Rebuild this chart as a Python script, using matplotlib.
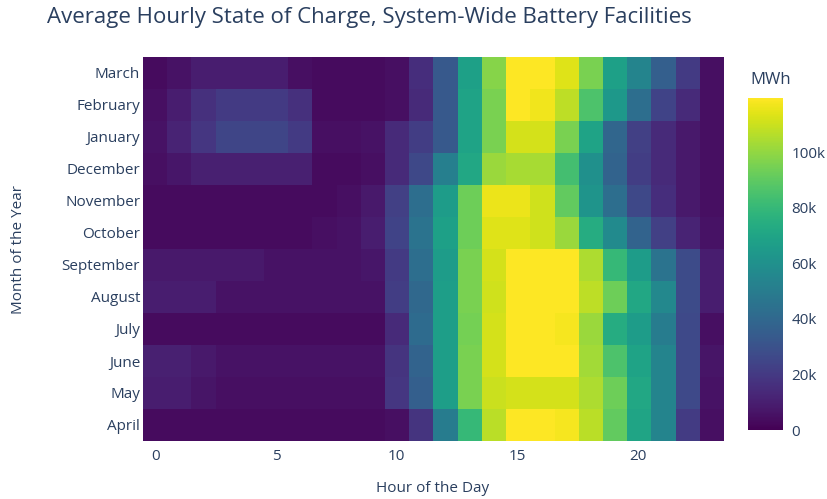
import numpy as np
import matplotlib
matplotlib.use("Agg")
import matplotlib.pyplot as plt
from matplotlib.ticker import FuncFormatter

plt.rcParams['font.family'] = ['Open Sans', 'DejaVu Sans']

hours = list(range(24))
months = ['April', 'May', 'June', 'July', 'August', 'September',
          'October', 'November', 'December', 'January', 'February', 'March']

# average state of charge per hour, thousands of MWh
april = [3.5, 3.5, 3.5, 3.5, 3.5, 3.5, 3.5, 3.5, 3.5, 3.5, 4.7, 18,
         50, 80, 107, 119.5, 119.5, 118, 107, 91, 70, 54, 21, 4.7]
may = [9.4, 9.4, 7, 4.7, 4.7, 4.7, 4.7, 4.7, 4.7, 4.7, 19, 36,
       67, 95.5, 110, 112, 112, 112, 105, 93, 71.5, 54, 26.5, 6]
june = [10.5, 10.5, 8.2, 5.9, 5.9, 5.9, 5.9, 5.9, 5.9, 5.9, 18, 38,
        67, 95.5, 112, 119.5, 119.5, 119.5, 103, 86, 69.5, 54, 26.5, 7]
july = [3.5, 3.5, 3.5, 3.5, 3.5, 3.5, 3.5, 3.5, 3.5, 3.5, 14.3, 42,
        67, 94.5, 112, 119.5, 119.5, 118, 101.5, 74, 66, 50, 26.5, 4.7]
august = [9.6, 9.6, 9.6, 6, 6, 6, 6, 6, 6, 6, 21.5, 40.5,
          67, 95.5, 111, 119.5, 119.5, 119.5, 107.5, 93, 71.5, 56, 27.5, 9.6]
september = [8.4, 8.4, 8.4, 8.4, 8.4, 6, 6, 6, 6, 7.2, 20.3, 43,
             66, 95.5, 112, 119.5, 119.5, 119.5, 105, 80, 66, 45.5, 27.5, 9.6]
october = [3.5, 3.5, 3.5, 3.5, 3.5, 3.5, 3.5, 4.8, 6, 9.6, 24, 45.5,
           68, 93, 113.5, 113.5, 111, 101.5, 74, 57, 38, 22.5, 12, 6]
november = [3.5, 3.5, 3.5, 3.5, 3.5, 3.5, 3.5, 3.5, 4.8, 8.4, 22.7, 43,
            66, 93, 116, 116, 111, 91, 62, 43, 26, 15.5, 8.4, 4.8]
december = [4.8, 7.2, 10.7, 10.7, 10.7, 10.7, 10.7, 3.5, 3.5, 4.8, 14.3, 26,
            51.5, 71.5, 101.5, 104, 104, 84, 60, 38, 21.5, 14.3, 8.4, 4.8]
january = [6, 12, 19, 25, 25, 25, 20.3, 4.8, 4.8, 6, 14.3, 21.5,
           33.5, 69.5, 95.5, 112, 112, 95.5, 69.5, 39.5, 22.5, 14.3, 8.4, 4.8]
february = [4.8, 9.6, 16.7, 20.3, 20.3, 20.3, 16.7, 3.5, 3.5, 3.5, 4.8, 14.3,
            33.5, 69.5, 95.5, 119.5, 117, 107.5, 86, 63.5, 43, 24, 14.3, 4.8]
march = [3.5, 6, 9.6, 9.6, 9.6, 9.6, 4.8, 3.5, 3.5, 3.5, 4.8, 15.5,
         33.5, 68, 98, 119.5, 119.5, 113.5, 95.5, 68, 54, 36, 20.3, 4.8]

z = np.array([april, may, june, july, august, september, october,
              november, december, january, february, march]) * 1000

txt = '#2a3f5f'
fig = plt.figure(figsize=(8.27, 4.99), dpi=100)
ax = fig.add_axes([143 / 827, 58 / 499, 580 / 827, 384 / 499])
cax = fig.add_axes([748 / 827, 69 / 499, 35 / 827, 332 / 499])

im = ax.imshow(z, origin='lower', aspect='auto', cmap='viridis',
               vmin=0, vmax=z.max(),
               extent=(-0.5, 23.5, -0.5, len(months) - 0.5))
ax.set_yticks(range(len(months)), months)
ax.set_xticks([0, 5, 10, 15, 20])
ax.tick_params(length=0, labelsize=11, labelcolor=txt)
ax.tick_params(axis='y', pad=2)
ax.tick_params(axis='x', pad=6)
for s in ax.spines.values():
    s.set_visible(False)
ax.set_xlabel('Hour of the Day', color=txt, fontsize=11, labelpad=12)
ax.set_ylabel('Month of the Year', color=txt, fontsize=11, labelpad=26)

cb = fig.colorbar(im, cax=cax, ticks=[0, 20000, 40000, 60000, 80000, 100000])
cb.outline.set_visible(False)
cb.ax.tick_params(length=0, labelsize=11, labelcolor=txt, pad=6)
cb.ax.yaxis.set_major_formatter(
    FuncFormatter(lambda v, p: '0' if v == 0 else f'{int(v / 1000)}k'))
fig.text(750 / 827, 1 - 80 / 499, 'MWh', color=txt, fontsize=12,
         va='center', ha='left')

fig.text(47 / 827, 1 - 17 / 499,
         'Average Hourly State of Charge, System-Wide Battery Facilities',
         color=txt, fontsize=16, va='center', ha='left')

fig.savefig('out.png', dpi=100)
